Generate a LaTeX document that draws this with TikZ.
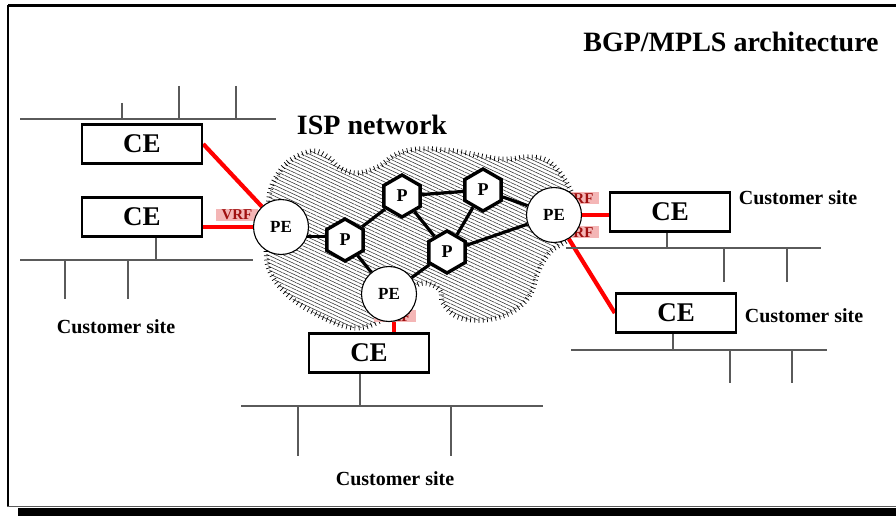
\documentclass[tikz,border=0pt]{standalone}
\usepackage{fontspec}
\setmainfont{Liberation Serif}
\usetikzlibrary{shapes.geometric,patterns.meta,decorations.pathreplacing}
\definecolor{vrfpink}{HTML}{F4B6B6}
\definecolor{vrftext}{HTML}{A01010}
\definecolor{sitegray}{HTML}{5A5A5A}
\definecolor{hatchgray}{HTML}{303030}
\pgfdeclarelayer{cloudlayer}
\pgfdeclarelayer{edgelayer}
\pgfsetlayers{cloudlayer,edgelayer,main}
\tikzset{
 cebox/.style={draw, line width=2.4pt, fill=white, minimum width=120pt, minimum height=39pt, inner sep=0pt, font=\fontsize{27}{27}\selectfont\bfseries},
 pecirc/.style={circle, draw, line width=1.1pt, fill=white, minimum size=55pt, inner sep=0pt, font=\fontsize{17}{17}\selectfont\bfseries},
 phex/.style={regular polygon, regular polygon sides=6, shape border rotate=30, draw, line width=3.4pt, fill=white, minimum size=42pt, inner sep=0pt, font=\fontsize{18}{18}\selectfont\bfseries},
 vrf/.style={fill=vrfpink, text=vrftext, minimum width=42pt, minimum height=12pt, inner sep=0pt, text height=10pt, text depth=0pt, font=\fontsize{15}{15}\selectfont\bfseries},
 redlink/.style={draw=red, line width=4.2pt},
 blink/.style={draw=black, line width=3.2pt},
 siteline/.style={draw=sitegray, line width=1.1pt},
 sitelabel/.style={font=\fontsize{20}{20}\selectfont\bfseries, inner sep=0pt, anchor=base},
 bigtitle/.style={font=\fontsize{28}{28}\selectfont\bfseries, inner sep=0pt, anchor=base},
}
\begin{document}
\begin{tikzpicture}[x=1pt,y=-1pt]
\useasboundingbox (0,0) rectangle (896,516);
\clip (0,0) rectangle (896,516);

% cloud
\begin{pgfonlayer}{cloudlayer}
\fill[white] (0,0) rectangle (896,516);
\fill[pattern={Lines[angle=-25,distance=3.3pt,line width=0.55pt]}, pattern color=hatchgray]
  plot[smooth cycle, tension=0.6] coordinates {(272,185) (288,162) (312,151) (328,157) (340,168) (357,173) (378,167) (395,155) (418,149) (455,151) (500,159) (528,157) (548,161) (565,180) (575,205) (572,235) (550,252) (538,272) (530,295) (512,312) (485,320) (458,317) (443,303) (440,290) (425,283) (410,290) (385,318) (355,328) (322,317) (290,297) (270,272) (266,245) (268,210)};
\draw[line width=0.7pt, decorate, decoration={ticks, segment length=4.2pt, amplitude=2.5pt}]
  plot[smooth cycle, tension=0.6] coordinates {(272,185) (288,162) (312,151) (328,157) (340,168) (357,173) (378,167) (395,155) (418,149) (455,151) (500,159) (528,157) (548,161) (565,180) (575,205) (572,235) (550,252) (538,272) (530,295) (512,312) (485,320) (458,317) (443,303) (440,290) (425,283) (410,290) (385,318) (355,328) (322,317) (290,297) (270,272) (266,245) (268,210)};
\end{pgfonlayer}

% frame and shadow
\fill[black] (18,507.5) rectangle (900,520);
\draw[line width=3pt] (8,6) -- (900,6);
\draw[line width=2pt] (8,5) -- (8,506);
\draw[draw=sitegray, line width=1pt] (7,506) -- (900,506);

% titles
\node[bigtitle] (title) at (731,52) {BGP/MPLS architecture};
\node[bigtitle] (isp) at (372,135) {ISP network};

% nodes
\node[cebox] (ce1) at (142,144) {CE};
\node[cebox] (ce2) at (142,217) {CE};
\node[cebox] (cer1) at (670,212) {CE};
\node[cebox] (cer2) at (676,313) {CE};
\node[cebox] (ceb) at (369,353) {CE};

\node[pecirc] (pel) at (281,227) {PE};
\node[pecirc] (per) at (554,215) {PE};
\node[pecirc] (peb) at (389,294) {PE};

\node[phex] (p1) at (345,240) {P};
\node[phex] (p2) at (402,196) {P};
\node[phex] (p3) at (483,190) {P};
\node[phex] (p4) at (447,252) {P};

% customer site labels
\node[sitelabel] (sl) at (116,333) {Customer site};
\node[sitelabel] (sr1) at (798,204) {Customer site};
\node[sitelabel] (sr2) at (804,322) {Customer site};
\node[sitelabel] (sb) at (395,485) {Customer site};

% edges
\begin{pgfonlayer}{edgelayer}
\draw[blink] (pel.-20) -- (pel.-20 -| p1.center);
\draw[blink] (p1) -- (p2);
\draw[blink] (p1) -- (peb);
\draw[blink] (p2) -- (p3);
\draw[blink] (p2) -- (p4);
\draw[blink] (p3) -- (p4);
\draw[blink] (p3) -- (per);
\draw[blink] (p4) -- (per);
\draw[blink] (p4) -- (peb);

\draw[redlink] (pel) -- (ce1.east);
\draw[redlink] (pel.west) -- (pel.west -| ce2.east);
\draw[redlink] (per.east) -- (per.east -| cer1.west);
\draw[redlink] (per) -- (cer2.west);
\draw[redlink] (peb.-80) -- (peb.-80 |- ceb.north);

\node[vrf] (vrfl) at (237,214.5) {VRF};
\node[vrf] (vrfr1) at (578,198) {VRF};
\node[vrf] (vrfr2) at (578,232) {VRF};
\node[vrf] (vrfb) at (395,316) {VRF};

% customer site LANs
\draw[siteline] (20,119) -- (276,119);
\draw[siteline] (122,103) -- (122,119);
\draw[siteline] (179,86) -- (179,119);
\draw[siteline] (236,86) -- (236,119);

\draw[siteline] (20,260) -- (253,260);
\draw[siteline] (156,237) -- (156,260);
\draw[siteline] (65,260) -- (65,299);
\draw[siteline] (128,260) -- (128,299);

\draw[siteline] (566,248) -- (821,248);
\draw[siteline] (667,232) -- (667,248);
\draw[siteline] (724,248) -- (724,282);
\draw[siteline] (787,248) -- (787,282);

\draw[siteline] (571,350) -- (827,350);
\draw[siteline] (673,333) -- (673,350);
\draw[siteline] (730,350) -- (730,383);
\draw[siteline] (792,350) -- (792,383);

\draw[siteline] (241,406) -- (543,406);
\draw[siteline] (360,373) -- (360,406);
\draw[siteline] (298,406) -- (298,456);
\draw[siteline] (451,406) -- (451,456);
\end{pgfonlayer}
\end{tikzpicture}
\end{document}
